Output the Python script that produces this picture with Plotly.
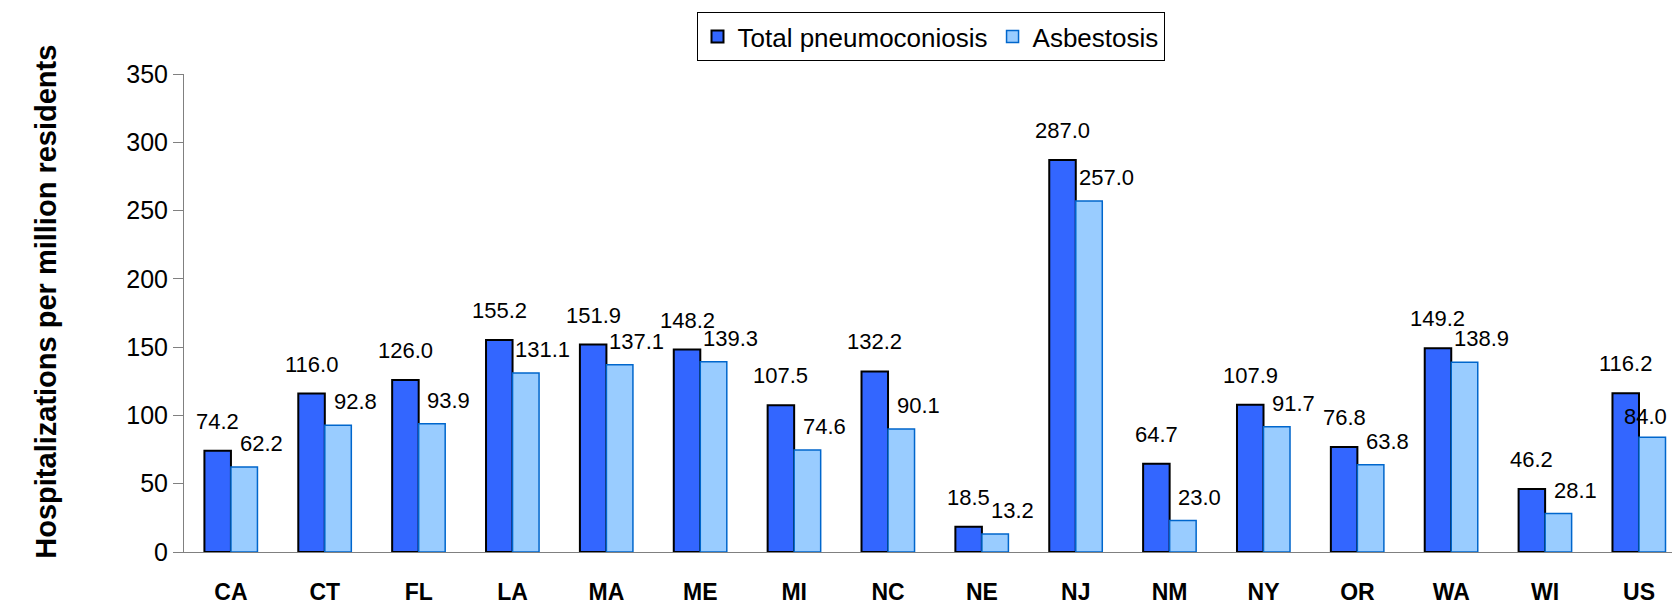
import plotly.graph_objects as go

states = ["CA", "CT", "FL", "LA", "MA", "ME", "MI", "NC", "NE", "NJ", "NM", "NY", "OR", "WA", "WI", "US"]
total_pneumo = [74.2, 116.0, 126.0, 155.2, 151.9, 148.2, 107.5, 132.2, 18.5, 287.0, 64.7, 107.9, 76.8, 149.2, 46.2, 116.2]
asbestosis = [62.2, 92.8, 93.9, 131.1, 137.1, 139.3, 74.6, 90.1, 13.2, 257.0, 23.0, 91.7, 63.8, 138.9, 28.1, 84.0]

DARK = "#3366FF"
LIGHT = "#99CCFF"
FONT = "Liberation Sans, Arial, sans-serif"

fig = go.Figure()
fig.add_trace(go.Bar(
    x=states, y=total_pneumo, name="Total pneumoconiosis",
    marker=dict(color=DARK, line=dict(color="#000000", width=2)),
))
fig.add_trace(go.Bar(
    x=states, y=asbestosis, name="Asbestosis",
    marker=dict(color=LIGHT, line=dict(color="#0066CC", width=1.5)),
))

# plot geometry: 16 categories spread so that each is ~93.9 px wide
L, R, T, B = 184, 0, 74, 55
W = 1672 - L - R
cat_px = 93.87
x_end = -0.5 + W / cat_px
bar_half = 0.5 * (1 - 0.435) / 2 * cat_px  # half bar width in px

anns = []
for s, v in zip(states, total_pneumo):
    anns.append(dict(x=s, y=v, text=f"{v:.1f}", showarrow=False, xanchor="center",
                     yanchor="bottom", xshift=-bar_half, yshift=15,
                     font=dict(size=22, color="#000000", family=FONT)))
n = len(states)
for i, (s, v) in enumerate(zip(states, asbestosis)):
    last = i == n - 1
    anns.append(dict(x=s, y=v, text=f"{v:.1f}", showarrow=False,
                     xanchor="right" if last else "center",
                     yanchor="bottom", xshift=(2 * bar_half + 3) if last else (bar_half + 17),
                     yshift=6 if last else 9,
                     font=dict(size=22, color="#000000", family=FONT)))

H = 607 - T - B
anns.append(dict(
    x=(46 - L) / W, y=(552.3 - 302) / H, xref="paper", yref="paper",
    text="<b>Hospitalizations per million residents</b>", textangle=-90,
    showarrow=False, xanchor="center", yanchor="middle",
    font=dict(size=29, color="#000000", family=FONT),
))

fig.update_layout(
    width=1672, height=607,
    margin=dict(l=L, r=R, t=T, b=B, autoexpand=False),
    paper_bgcolor="white", plot_bgcolor="white",
    barmode="group", bargap=0.435, bargroupgap=0,
    font=dict(family=FONT, color="#000000"),
    showlegend=True,
    legend=dict(
        orientation="h", x=(930.5 - L) / W, xanchor="center",
        y=1 + (T - 12) / H, yanchor="top",
        bgcolor="white", bordercolor="#000000", borderwidth=1,
        font=dict(size=26, family=FONT, color="#000000"),
        itemwidth=30, traceorder="normal",
    ),
    annotations=anns,
    xaxis=dict(
        type="category", range=[-0.5, x_end],
        showline=True, linecolor="#808080", linewidth=1,
        ticks="", showgrid=False, zeroline=False,
        tickfont=dict(size=23, family=FONT, color="#000000"),
        ticklabelstandoff=19,
        tickmode="array", tickvals=states, ticktext=[f"<b>{s}</b>" for s in states],
    ),
    yaxis=dict(
        range=[0, 350], dtick=50, tick0=0,
        showline=True, linecolor="#808080", linewidth=1,
        ticks="outside", ticklen=10, tickcolor="#808080",
        showgrid=False, zeroline=False,
        tickfont=dict(size=25, family=FONT, color="#000000"),
        ticklabelstandoff=0,
    ),
)

fig.write_html(
    "out.html",
    config={"displayModeBar": False},
    post_script="document.body.style.margin='0';document.body.style.overflow='hidden';",
)
